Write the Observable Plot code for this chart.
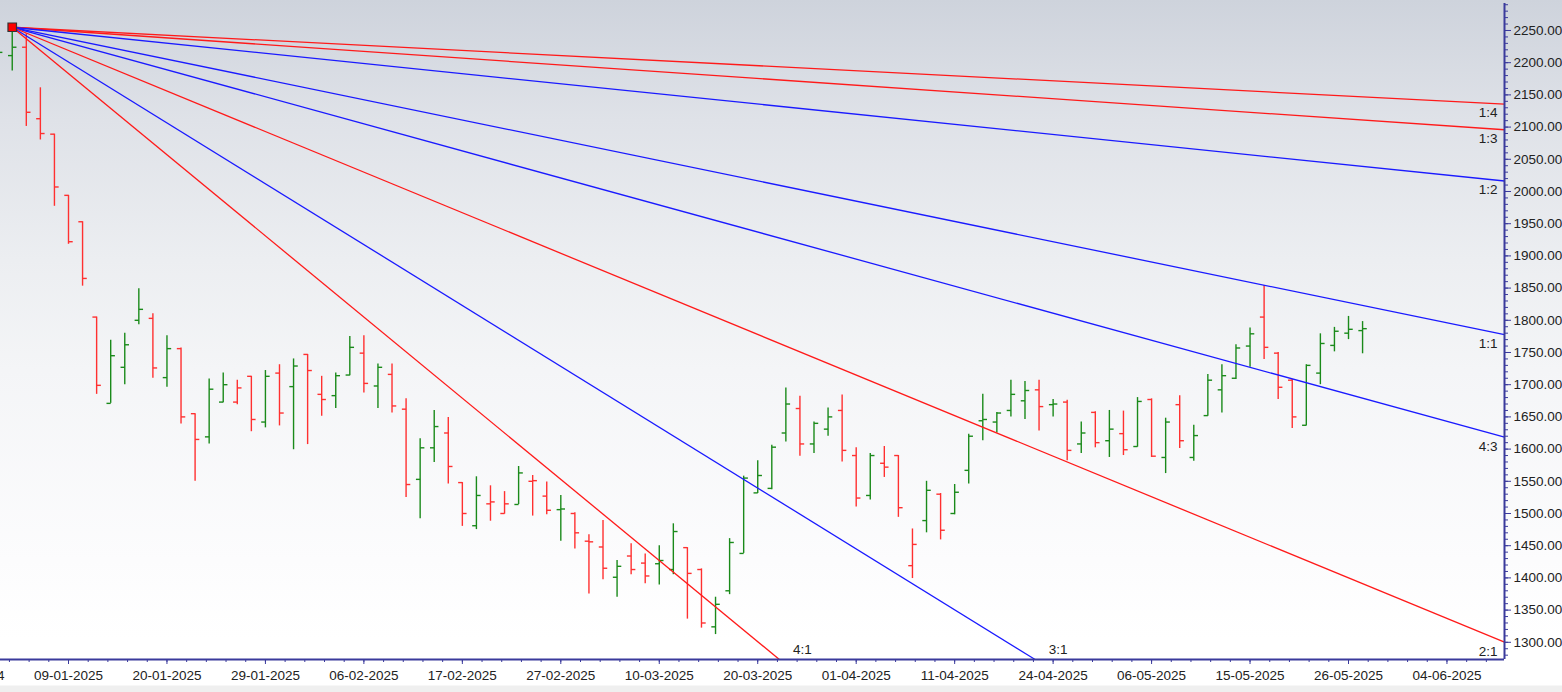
<!DOCTYPE html>
<html><head><meta charset="utf-8">
<script src="https://cdn.jsdelivr.net/npm/d3@7"></script>
<script src="https://cdn.jsdelivr.net/npm/@observablehq/plot@0.6"></script>
<style>
html,body{margin:0;padding:0;background:#fff;}
#chart{width:1562px;height:692px;overflow:hidden;
background:linear-gradient(to bottom,#ced3dc 0px,#dfe2e8 120px,#eceef1 260px,#f4f5f7 370px,#fcfcfd 560px,#ffffff 640px,#ffffff 685px,#efefef 686px,#efefef 692px);}
#chart svg{display:block;}
</style></head><body><div id="chart"></div>
<script>
// ---------- data ----------
const tradingDays = ["31-12-2024","01-01-2025","02-01-2025","03-01-2025","06-01-2025","07-01-2025","08-01-2025","09-01-2025","10-01-2025","13-01-2025","14-01-2025","15-01-2025","16-01-2025","17-01-2025","20-01-2025","21-01-2025","22-01-2025","23-01-2025","24-01-2025","27-01-2025","28-01-2025","29-01-2025","30-01-2025","31-01-2025","01-02-2025","03-02-2025","04-02-2025","05-02-2025","06-02-2025","07-02-2025","10-02-2025","11-02-2025","12-02-2025","13-02-2025","14-02-2025","17-02-2025","18-02-2025","19-02-2025","20-02-2025","21-02-2025","24-02-2025","25-02-2025","27-02-2025","28-02-2025","03-03-2025","04-03-2025","05-03-2025","06-03-2025","07-03-2025","10-03-2025","11-03-2025","12-03-2025","13-03-2025","17-03-2025","18-03-2025","19-03-2025","20-03-2025","21-03-2025","24-03-2025","25-03-2025","26-03-2025","27-03-2025","28-03-2025","01-04-2025","02-04-2025","03-04-2025","04-04-2025","07-04-2025","08-04-2025","09-04-2025","11-04-2025","15-04-2025","16-04-2025","17-04-2025","21-04-2025","22-04-2025","23-04-2025","24-04-2025","25-04-2025","28-04-2025","29-04-2025","30-04-2025","02-05-2025","05-05-2025","06-05-2025","07-05-2025","08-05-2025","09-05-2025","12-05-2025","13-05-2025","14-05-2025","15-05-2025","16-05-2025","19-05-2025","20-05-2025","21-05-2025","22-05-2025","23-05-2025","26-05-2025","27-05-2025","28-05-2025","29-05-2025","30-05-2025","02-06-2025","03-06-2025","04-06-2025","05-06-2025","06-06-2025","09-06-2025","10-06-2025","11-06-2025"];

const firstBarDay = "02-01-2025";

const open = [
2200,2211,2224,2113,2089,1994,1953,1805,1671,1727,
1800,1803,1711,1756,1655,1619,1673,1673,1713,1642,
1718,1697,1747,1685,1683,1715,1749,1698,1716,1662,
1553,1602,1625,1548,1481,1515,1500,1514,1550,1527,
1506,1500,1457,1448,1401,1434,1423,1422,1413,1447,
1413,1324,1380,1438,1532,1539,1625,1663,1608,1631,
1660,1590,1528,1578,1590,1419,1489,1530,1500,1567,
1644,1642,1660,1675,1692,1669,1673,1608,1657,1613,
1624,1604,1677,1587,1669,1587,1652,1692,1710,1760,
1805,1749,1707,1637,1718,1761,1780,1784];
const high = [
2228,2255,2245,2161,2089,1994,1953,1805,1769,1780,
1849,1810,1776,1757,1655,1709,1718,1707,1713,1722,
1731,1740,1747,1713,1718,1775,1776,1732,1732,1678,
1616,1660,1649,1548,1557,1543,1534,1573,1559,1549,
1528,1501,1467,1489,1427,1453,1437,1450,1484,1447,
1414,1370,1461,1558,1582,1606,1695,1682,1642,1664,
1684,1602,1593,1604,1590,1476,1550,1531,1545,1623,
1685,1657,1707,1705,1707,1677,1676,1642,1658,1660,
1659,1680,1678,1648,1683,1637,1716,1731,1762,1788,
1854,1750,1708,1731,1779,1789,1806,1798];
const low = [
2195,2187,2101,2080,1977,1918,1853,1685,1671,1700,
1793,1710,1696,1639,1550,1608,1672,1669,1627,1633,
1636,1599,1607,1651,1663,1714,1687,1663,1656,1525,
1492,1579,1546,1480,1475,1488,1499,1514,1496,1498,
1457,1445,1375,1397,1370,1405,1391,1389,1405,1336,
1322,1312,1374,1438,1531,1537,1611,1589,1593,1620,
1580,1510,1521,1556,1494,1399,1470,1459,1498,1546,
1613,1625,1650,1646,1628,1650,1582,1593,1602,1587,
1590,1603,1587,1562,1601,1581,1651,1656,1708,1727,
1739,1677,1632,1636,1700,1751,1770,1748];
const close = [
2216,2224,2123,2090,2007,1922,1865,1699,1745,1762,
1817,1726,1756,1650,1615,1693,1700,1695,1646,1713,
1656,1729,1722,1677,1714,1758,1702,1727,1667,1545,
1602,1635,1573,1500,1528,1518,1515,1563,1551,1505,
1507,1470,1456,1415,1418,1413,1403,1427,1472,1407,
1330,1359,1455,1555,1559,1603,1670,1608,1640,1650,
1598,1524,1590,1572,1509,1452,1536,1474,1533,1620,
1646,1656,1685,1691,1666,1670,1598,1625,1610,1631,
1599,1674,1589,1642,1613,1621,1707,1714,1757,1779,
1758,1696,1650,1730,1764,1783,1786,1787];

const tickLabels = ["31-12-2024","09-01-2025","20-01-2025","29-01-2025","06-02-2025","17-02-2025","27-02-2025","10-03-2025","20-03-2025","01-04-2025","11-04-2025","24-04-2025","06-05-2025","15-05-2025","26-05-2025","04-06-2025"];

const fanLabels = ["1:4","1:3","1:2","1:1","4:3","2:1","3:1","4:1"];
const fanRatios = [1/4, 1/3, 1/2, 1, 4/3, 2, 3, 4];
const fanUnit = 4.5; // price per bar for the 1:1 line

// ---------- styles ----------
const NAVY = "#3a3a9c";
const RED = "#ff3030";
const GREEN = "#1a8a1a";
const FAN_COLOR = {"1:4":"#ff1a1a","1:3":"#ff1a1a","1:2":"#1a1aff","1:1":"#1a1aff","4:3":"#1a1aff","2:1":"#ff1a1a","3:1":"#1a1aff","4:1":"#ff1a1a"};

// ---------- build ----------
const start = tradingDays.indexOf(firstBarDay);
const bars = open.map((o, k) => ({
  i: start + k, open: o, high: high[k], low: low[k], close: close[k],
  up: close[k] >= (k > 0 ? close[k - 1] : o)
}));
const upBars = bars.filter(d => d.up), downBars = bars.filter(d => !d.up);

const i09 = tradingDays.indexOf("09-01-2025");
const barStep = 14.066; // px per trading day
const xDomain = [i09 - 68 / barStep, i09 + 1436 / barStep];
const yDomain = [1273.3, 2291.9];

const pivot = bars.reduce((a, b) => (b.high > a.high ? b : a));
const fans = fanLabels.map((lab, k) => {
  const slope = fanUnit * fanRatios[k];
  const xEndFull = xDomain[1];
  const yEndFull = pivot.high - slope * (xEndFull - pivot.i);
  const hitsBottom = yEndFull < yDomain[0];
  const xEnd = hitsBottom ? pivot.i + (pivot.high - yDomain[0]) / slope : xEndFull;
  const yEnd = hitsBottom ? yDomain[0] : yEndFull;
  return {label: lab, x1: pivot.i, y1: pivot.high, x2: xEnd, y2: yEnd, hitsBottom, color: FAN_COLOR[lab]};
});
const fansRight = fans.filter(f => !f.hitsBottom), fansBottom = fans.filter(f => f.hitsBottom);

const majorX = tickLabels.map(t => tradingDays.indexOf(t));
const minorX = d3.range(i09 - 1.4 * 5, xDomain[1], 1.4);
const majorY = d3.range(1300, 2251, 50);
const minorY = d3.range(1280, 2291, 10);

const tick = 0.3;
const barMarks = (data, color) => [
  Plot.ruleX(data, {x: "i", y1: "low", y2: "high", stroke: color, strokeWidth: 1.4}),
  Plot.link(data, {x1: d => d.i - tick, x2: "i", y1: "open", y2: "open", stroke: color, strokeWidth: 1.4}),
  Plot.link(data, {x1: "i", x2: d => d.i + tick, y1: "close", y2: "close", stroke: color, strokeWidth: 1.4})
];

const chart = Plot.plot({
  width: 1562, height: 692,
  marginLeft: 0, marginRight: 58, marginTop: 3, marginBottom: 33,
  x: {domain: xDomain, axis: null},
  y: {domain: yDomain, axis: null},
  style: {background: "transparent", fontFamily: "'Liberation Sans', Arial, sans-serif", fontSize: "13.5px", color: "#222", overflow: "hidden"},
  marks: [
    ...barMarks(upBars, GREEN),
    ...barMarks(downBars, RED),
    Plot.link(fans, {x1: "x1", y1: "y1", x2: "x2", y2: "y2", stroke: d => d.color, strokeWidth: 1.3}),
    Plot.text(fansRight, {x: "x2", y: "y2", text: "label", textAnchor: "end", dx: -7, dy: 9, fill: "#222", fontSize: 13.5}),
    Plot.text(fansBottom, {x: "x2", y: "y2", text: "label", textAnchor: "middle", dx: 23, dy: -10, fill: "#222", fontSize: 13.5}),
    Plot.dot([pivot], {x: "i", y: "high", symbol: "square", r: 4.8, fill: "#ff0000", stroke: "#333", strokeWidth: 1.2}),
    Plot.axisY(minorY, {anchor: "right", tickSize: 3, tickFormat: () => "", stroke: NAVY}),
    Plot.axisY(majorY, {anchor: "right", tickSize: 6, tickPadding: 3, tickFormat: d => d.toFixed(2), stroke: NAVY, fill: "#222"}),
    Plot.axisX(minorX, {anchor: "bottom", tickSize: 3, tickFormat: () => "", stroke: NAVY}),
    Plot.axisX(majorX, {anchor: "bottom", tickSize: 5, tickPadding: 6, tickFormat: i => tradingDays[i], stroke: NAVY, fill: "#222"}),
    Plot.ruleX([xDomain[1]], {stroke: NAVY, strokeWidth: 2}),
    Plot.ruleY([yDomain[0]], {stroke: NAVY, strokeWidth: 2})
  ]
});
document.getElementById("chart").appendChild(chart);
</script></body></html>
